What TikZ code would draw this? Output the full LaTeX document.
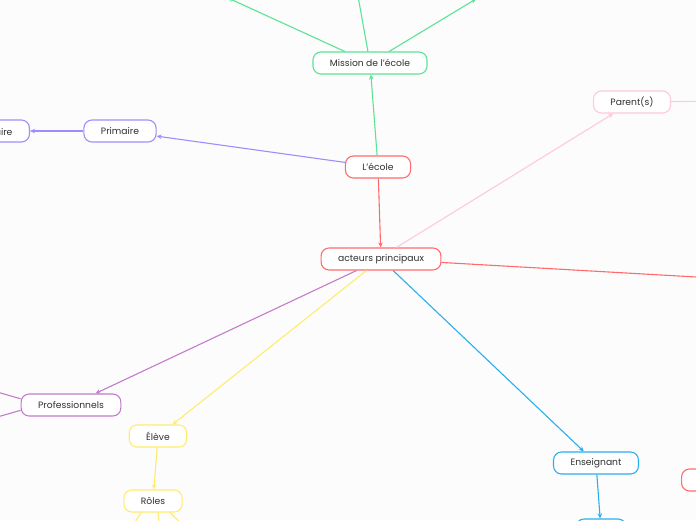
\documentclass[tikz,border=0pt]{standalone}
\usepackage{fontspec}
\setmainfont{Poppins}
\usepackage{xcolor}
\usetikzlibrary{arrows.meta}

\definecolor{fond}{HTML}{FCFCFD}
\definecolor{txt}{HTML}{303030}
\definecolor{vert}{HTML}{5CE394}
\definecolor{rouge}{HTML}{FF6B6B}
\definecolor{lila}{HTML}{A08CFA}
\definecolor{rose}{HTML}{FFC9DE}
\definecolor{mauve}{HTML}{C27CC9}
\definecolor{jaune}{HTML}{FFEC6E}
\definecolor{bleu}{HTML}{2AAEEC}

\tikzset{
  topic/.style={draw, rounded corners=8pt, fill=white, line width=1.1pt,
    minimum height=22pt, inner xsep=17pt, text=txt,
    font=\fontsize{9.2}{11}\selectfont},
  link/.style={line width=1.1pt, -{Stealth[length=5pt,width=4.5pt]}},
  plain/.style={line width=1.1pt},
}

\begin{document}
\begin{tikzpicture}[x=1pt,y=-1pt]
    \fill[fond] (0,0) rectangle (696,520);
    \useasboundingbox (0,0) rectangle (696,520);

    \node[topic, draw=vert] (mission) at (370,63) {Mission de l’école};
    \node[topic, draw=rouge] (ecole) at (378,167) {L’école};
    \node[topic, draw=lila] (primaire) at (120,131) {Primaire};
    \node[topic, draw=lila, anchor=east] (elem) at (30,131) {Élémentaire};
    \node[topic, draw=rouge] (acteurs) at (381,259) {acteurs principaux};
    \node[topic, draw=rose] (parents) at (632,102) {Parent(s)};
    \node[topic, draw=mauve] (pro) at (71,405) {Professionnels};
    \node[topic, draw=jaune] (eleve) at (158,436) {Élève};
    \node[topic, draw=jaune] (roles) at (153,501) {Rôles};
    \node[topic, draw=bleu] (ens) at (596,463) {Enseignant};
    \node[topic, draw=bleu, minimum width=50pt] (ens1) at (601,530) {};
    \node[topic, draw=rouge, minimum width=60pt, anchor=west] (right1) at (681,480) {};

    % ends outside the frame
    \coordinate (m1) at (228,-2);
    \coordinate (m2) at (356,-15);
    \coordinate (m3) at (476,-1);
    \coordinate (p1) at (730,101);
    \coordinate (a1) at (740,279.5);
    \coordinate (pr1) at (-20,387);
    \coordinate (pr2) at (-20,422);
    \coordinate (r1) at (124,540);
    \coordinate (r2) at (161,540);
    \coordinate (r3) at (198,540);

    \draw[link, vert] (mission) -- (m1);
    \draw[plain, vert] (mission) -- (m2);
    \draw[link, vert] (mission) -- (m3);
    \draw[link, vert] (ecole) -- (mission);
    \draw[link, lila] (ecole) -- (primaire);
    \draw[link, lila] (primaire) -- (elem);
    \draw[link, rouge] (ecole) -- (acteurs);
    \draw[link, rose] (acteurs.north east) ++(-45,0) -- (parents);
    \draw[plain, rose] (parents) -- (p1);
    \draw[plain, rouge] (acteurs) -- (a1);
    \draw[link, mauve] (acteurs) -- (pro);
    \draw[plain, mauve] (pro.173) -- (pr1);
    \draw[plain, mauve] (pro.186) -- (pr2);
    \draw[link, jaune] (acteurs) -- (eleve);
    \draw[link, jaune] (eleve) -- (roles);
    \draw[plain, jaune] ([xshift=-12pt]roles.south) -- (r1);
    \draw[plain, jaune] ([xshift=5pt]roles.south) -- (r2);
    \draw[plain, jaune] ([xshift=17pt]roles.south) -- (r3);
    \draw[link, bleu] (acteurs) -- (ens);
    \draw[link, bleu] (ens) -- (ens1);
\end{tikzpicture}
\end{document}
